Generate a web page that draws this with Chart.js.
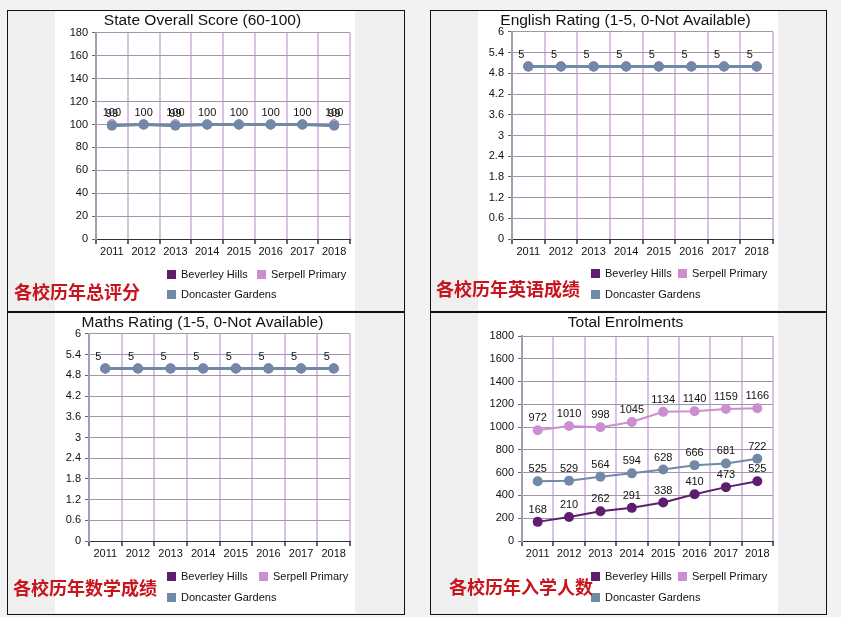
<!DOCTYPE html>
<html>
<head>
<meta charset="utf-8">
<script src="https://cdn.jsdelivr.net/npm/chart.js@4.4.0/dist/chart.umd.min.js"></script>
<style>
  body { margin:0; background:#f2f2f2; width:841px; height:617px; position:relative; overflow:hidden;
         font-family:"Liberation Sans", Arial, sans-serif; }
  .box { position:absolute; border:1px solid #111; background:#efefef; box-sizing:border-box; }
  .panel { position:absolute; background:#fff; }
  .panel canvas { position:absolute; left:0; top:0; }
  .item { position:absolute; font-size:11px; color:#111; white-space:nowrap; line-height:14px; }
  .sw { display:inline-block; width:9px; height:9px; margin-right:5px; vertical-align:-1px; }
  .caption { position:absolute; font-family:"Noto Sans CJK SC", sans-serif; font-size:18px; font-weight:bold;
             color:#c8141c; white-space:nowrap; line-height:22px; }
</style>
</head>
<body>

<div class="box" style="left:7px;top:10px;width:398px;height:302px"></div>
<div class="box" style="left:430px;top:10px;width:397px;height:302px"></div>
<div class="box" style="left:7px;top:311px;width:398px;height:304px;border-top-width:2px"></div>
<div class="box" style="left:430px;top:311px;width:397px;height:304px;border-top-width:2px"></div>

<div class="panel" style="left:55px;top:11px;width:300px;height:299px"><canvas id="c1" width="300" height="260"></canvas></div>
<div class="panel" style="left:478px;top:11px;width:300px;height:299px"><canvas id="c2" width="300" height="260"></canvas></div>
<div class="panel" style="left:55px;top:313px;width:300px;height:300px"><canvas id="c3" width="300" height="260"></canvas></div>
<div class="panel" style="left:478px;top:313px;width:300px;height:300px"><canvas id="c4" width="300" height="260"></canvas></div>

<div id="legends"></div>

<div class="caption" style="left:14px;top:280px">各校历年总评分</div>
<div class="caption" style="left:436px;top:277px">各校历年英语成绩</div>
<div class="caption" style="left:13px;top:576px">各校历年数学成绩</div>
<div class="caption" style="left:449px;top:575px">各校历年入学人数</div>

<script>
const years = ['2011', '2012', '2013', '2014', '2015', '2016', '2017', '2018'];
const schools = ['Beverley Hills', 'Serpell Primary', 'Doncaster Gardens'];
const schoolColors = ['#5f1d6e', '#cc8ed0', '#6f89a6'];

const scoreBeverley = [100, 100, 100, 100, 100, 100, 100, 100];
const scoreSerpell = [100, 100, 100, 100, 100, 100, 100, 100];
const scoreDoncaster = [99, 100, 99, 100, 100, 100, 100, 99];

const englishBeverley = [5, 5, 5, 5, 5, 5, 5, 5];
const englishSerpell = [5, 5, 5, 5, 5, 5, 5, 5];
const englishDoncaster = [5, 5, 5, 5, 5, 5, 5, 5];

const mathsBeverley = [5, 5, 5, 5, 5, 5, 5, 5];
const mathsSerpell = [5, 5, 5, 5, 5, 5, 5, 5];
const mathsDoncaster = [5, 5, 5, 5, 5, 5, 5, 5];

const enrolBeverley = [168, 210, 262, 291, 338, 410, 473, 525];
const enrolSerpell = [972, 1010, 998, 1045, 1134, 1140, 1159, 1166];
const enrolDoncaster = [525, 529, 564, 594, 628, 666, 681, 722];

const scoreTicks = [0, 20, 40, 60, 80, 100, 120, 140, 160, 180];
const ratingTicks = [0, 0.6, 1.2, 1.8, 2.4, 3, 3.6, 4.2, 4.8, 5.4, 6];
const enrolTicks = [0, 200, 400, 600, 800, 1000, 1200, 1400, 1600, 1800];

const FONT = '"Liberation Sans", Arial, sans-serif';

// 点の上に数値を描く（同じ位置・同じ文字は一度だけ）
const valueLabels = {
  id: 'valueLabels',
  afterDatasetsDraw(chart, args, opts) {
    const ctx = chart.ctx;
    const done = new Set();
    ctx.save();
    ctx.font = '11px ' + FONT;
    ctx.fillStyle = '#111';
    ctx.textAlign = 'center';
    ctx.textBaseline = 'middle';
    chart.data.datasets.forEach((ds, i) => {
      chart.getDatasetMeta(i).data.forEach((pt, j) => {
        const text = String(ds.data[j]);
        const key = Math.round(pt.x) + ':' + Math.round(pt.y) + ':' + text;
        if (done.has(key)) return;
        done.add(key);
        ctx.fillText(text, pt.x + (opts.shift || 0), pt.y - 12);
      });
    });
    ctx.restore();
  }
};

function makeChart(id, cfg) {
  const series = [cfg.b, cfg.s, cfg.d];
  new Chart(document.getElementById(id), {
    type: 'line',
    data: {
      labels: years,
      datasets: series.map((data, i) => ({
        label: schools[i],
        data,
        order: 2 - i,
        borderColor: schoolColors[i],
        backgroundColor: schoolColors[i],
        pointBackgroundColor: schoolColors[i],
        borderWidth: cfg.lineWidth,
        pointRadius: 5,
        pointBorderWidth: 0,
        tension: 0,
        fill: false
      }))
    },
    options: {
      responsive: false,
      animation: false,
      layout: { padding: { left: 0, right: 5, top: 0, bottom: 0 } },
      plugins: {
        legend: { display: false },
        tooltip: { enabled: false },
        title: {
          display: true,
          text: cfg.title,
          color: '#111',
          font: { family: FONT, size: 15.5, weight: 'normal', lineHeight: 1.2 },
          padding: cfg.titlePad
        },
        valueLabels: { shift: cfg.shift }
      },
      scales: {
        x: {
          offset: true,
          grid: { offset: true, color: '#d9c2e2', lineWidth: 2, tickColor: '#666', tickLength: 5 },
          border: { color: '#333', width: 1 },
          ticks: { color: '#111', font: { family: FONT, size: 11 }, padding: 1, maxRotation: 0, autoSkip: false },
          afterFit: s => { s.height = 32; }
        },
        y: {
          min: cfg.ticks[0],
          max: cfg.ticks[cfg.ticks.length - 1],
          afterBuildTicks: s => { s.ticks = cfg.ticks.map(v => ({ value: v })); },
          grid: { color: '#a395b0', lineWidth: 1, tickColor: '#666', tickLength: 4 },
          border: { color: '#a899b4', width: 2 },
          ticks: { color: '#111', font: { family: FONT, size: 11 }, padding: 4, callback: v => String(v) },
          afterFit: s => { s.width = cfg.axisW; }
        }
      }
    },
    plugins: [valueLabels]
  });
}

makeChart('c1', { title: 'State Overall Score (60-100)', ticks: scoreTicks, b: scoreBeverley, s: scoreSerpell, d: scoreDoncaster,
  axisW: 41, titlePad: { top: 0, bottom: 3.4 }, lineWidth: 3, shift: 0 });
makeChart('c2', { title: 'English Rating (1-5, 0-Not Available)', ticks: ratingTicks, b: englishBeverley, s: englishSerpell, d: englishDoncaster,
  axisW: 34, titlePad: { top: 0.7, bottom: 1.7 }, lineWidth: 3, shift: -7 });
makeChart('c3', { title: 'Maths Rating (1-5, 0-Not Available)', ticks: ratingTicks, b: mathsBeverley, s: mathsSerpell, d: mathsDoncaster,
  axisW: 34, titlePad: { top: 0.7, bottom: 1.7 }, lineWidth: 3, shift: -7 });
makeChart('c4', { title: 'Total Enrolments', ticks: enrolTicks, b: enrolBeverley, s: enrolSerpell, d: enrolDoncaster,
  axisW: 44, titlePad: { top: 0, bottom: 4.4 }, lineWidth: 2, shift: 0 });

// 凡例（2段組み）
const legendSpots = [
  { x: [167, 257, 167], y: [274, 274, 294] },
  { x: [591, 678, 591], y: [273, 273, 294] },
  { x: [167, 259, 167], y: [576, 576, 597] },
  { x: [591, 678, 591], y: [576, 576, 597] }
];
const legendsEl = document.getElementById('legends');
legendSpots.forEach(spot => {
  schools.forEach((name, i) => {
    const el = document.createElement('span');
    el.className = 'item';
    el.style.left = spot.x[i] + 'px';
    el.style.top = (spot.y[i] - 7) + 'px';
    el.innerHTML = `<span class="sw" style="background:${schoolColors[i]}"></span>${name}`;
    legendsEl.appendChild(el);
  });
});
</script>
</body>
</html>
